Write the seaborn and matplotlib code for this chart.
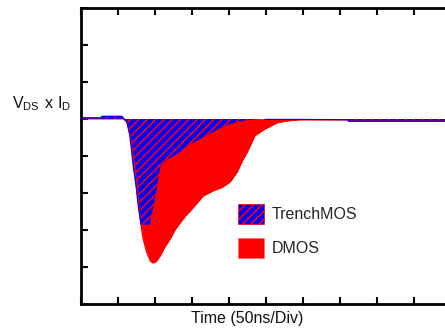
import numpy as np
import pandas as pd
import matplotlib
matplotlib.use("Agg")
import matplotlib.pyplot as plt
import seaborn as sns
from matplotlib.patches import Patch

# time in divisions (50 ns/Div), power in arbitrary divisions
time = [0.0, 0.54, 0.57, 1.11, 1.16, 1.24, 1.32, 1.41, 1.49, 1.54, 1.62, 1.68, 1.78,
        1.86, 1.89, 1.95, 2.03, 2.14, 2.27, 2.41, 2.54, 2.68, 2.84, 3.0, 3.3, 3.57,
        3.81, 4.03, 4.22, 4.35, 4.49, 4.70, 4.97, 5.30, 5.57, 5.92, 7.19, 7.24, 10.0]
dmos = [0.03, 0.03, 0.07, 0.07, 0.0, -0.08, -0.4, -1.0, -1.6, -2.16, -2.84, -3.24, -3.6,
        -3.8, -3.85, -3.89, -3.85, -3.7, -3.45, -3.24, -3.0, -2.8, -2.6, -2.43, -2.08, -1.94,
        -1.85, -1.7, -1.43, -1.15, -0.9, -0.45, -0.27, -0.1, -0.05, -0.02, -0.02, -0.06, -0.06]
trench = [0.03, 0.03, 0.07, 0.07, 0.0, -0.08, -0.45, -1.27, -1.85, -2.3, -2.84, -2.84, -2.84,
          -2.84, -2.7, -2.4, -2.0, -1.3, -1.15, -1.05, -0.98, -0.88, -0.75, -0.66, -0.5, -0.35,
          -0.22, -0.14, -0.08, -0.06, -0.03, -0.02, -0.01, -0.01, -0.01, -0.01, -0.02, -0.06, -0.06]

df = pd.DataFrame({"time": time, "DMOS": dmos, "TrenchMOS": trench})

sns.set_theme(style="ticks")
plt.rcParams["font.family"] = ["Liberation Sans", "DejaVu Sans"]
plt.rcParams["hatch.color"] = "red"
plt.rcParams["hatch.linewidth"] = 1.1

fig = plt.figure(figsize=(4.45, 3.31), dpi=100)
ax = fig.add_axes([81 / 445, 27 / 331, 370 / 445, 296 / 331])

# filled areas
ax.fill_between(df["time"], df["DMOS"], 0, color="red", linewidth=0)
ax.fill_between(df["time"], df["TrenchMOS"], 0, facecolor="blue", edgecolor="red",
                hatch="////", linewidth=0)

# outline traces
sns.lineplot(data=df, x="time", y="DMOS", color="red", linewidth=1.0, ax=ax)
sns.lineplot(data=df[df["time"] <= 1.86], x="time", y="TrenchMOS", color="blue",
             linewidth=0.8, ax=ax)
sns.lineplot(data=df[df["time"] >= 4.97], x="time", y="TrenchMOS", color="blue",
             linewidth=0.8, ax=ax)

ax.set_xlim(0, 10)
ax.set_ylim(-5, 3)
ax.set_xticks(np.arange(0, 11, 1))
ax.set_yticks(np.arange(-5, 4, 1))
ax.set_xticklabels([])
ax.set_yticklabels([])
ax.tick_params(direction="in", length=5, width=1.5, top=True, bottom=True,
               left=True, right=False, colors="black")
for s in ax.spines.values():
    s.set_linewidth(2)
    s.set_color("black")

ax.set_xlabel("Time (50ns/Div)", fontsize=11.5, color="#111111")
ax.xaxis.set_label_coords((247 - 81) / 370, -0.025, transform=ax.transAxes)
ax.xaxis.label.set_verticalalignment("top")
ax.set_ylabel("")
fig.text(12 / 445, 1 - 108 / 331, r"$\mathregular{V_{DS}\ x\ I_D}$", fontsize=11.5,
         ha="left", va="baseline", color="#111111")

handles = [Patch(facecolor="blue", edgecolor="red", hatch="////", linewidth=0.5),
           Patch(facecolor="red", edgecolor="#ff6666", linewidth=0.5)]
ax.legend(handles, ["TrenchMOS", "DMOS"], loc="upper left",
          bbox_to_anchor=((232 - 81) / 370, (304 - 198) / 296), frameon=False,
          fontsize=11.5, handlelength=1.6, handleheight=1.5, labelspacing=0.9,
          handletextpad=0.5, borderaxespad=0)

fig.savefig("out.png", dpi=100)
